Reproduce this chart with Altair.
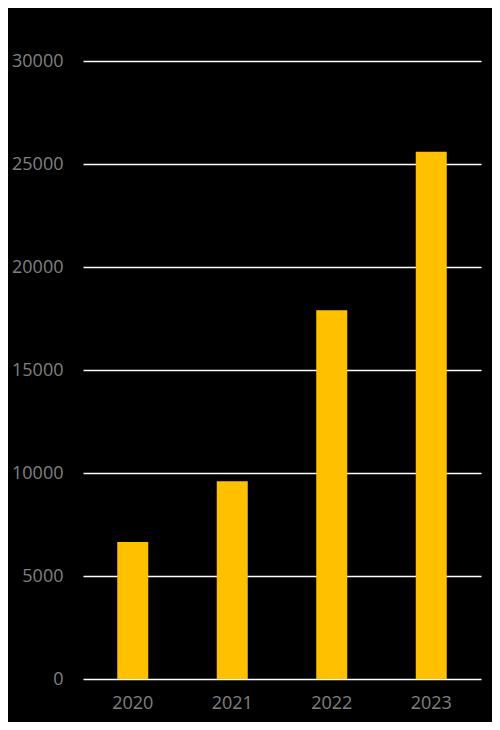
import altair as alt
import pandas as pd

years = ["2020", "2021", "2022", "2023"]
values = [6650, 9600, 17900, 25600]

df = pd.DataFrame({"year": years, "value": values})

chart = alt.Chart(df).mark_bar(size=31, color="#FFC000").encode(
    x=alt.X("year:N", sort=years, title=None,
            axis=alt.Axis(labelAngle=0, labelFontSize=18, labelColor="#808080",
                          labelFont="Open Sans", labelPadding=15, ticks=False,
                          domain=False, grid=False)),
    y=alt.Y("value:Q", title=None,
            scale=alt.Scale(domain=[0, 30000], nice=False),
            axis=alt.Axis(values=[0, 5000, 10000, 15000, 20000, 25000, 30000],
                          labelFontSize=18, labelColor="#808080", labelFont="Open Sans",
                          labelPadding=20, ticks=False, domain=False,
                          grid=True, gridColor="#ffffff", gridWidth=1.5, format="d")),
).properties(
    width=398, height=618, background="black",
    autosize=alt.AutoSizeParams(type="none"),
    padding={"left": 75, "top": 53, "right": 11, "bottom": 43},
).configure_view(stroke=None)

chart.save("out.html", embed_options={"renderer": "svg", "actions": False})
